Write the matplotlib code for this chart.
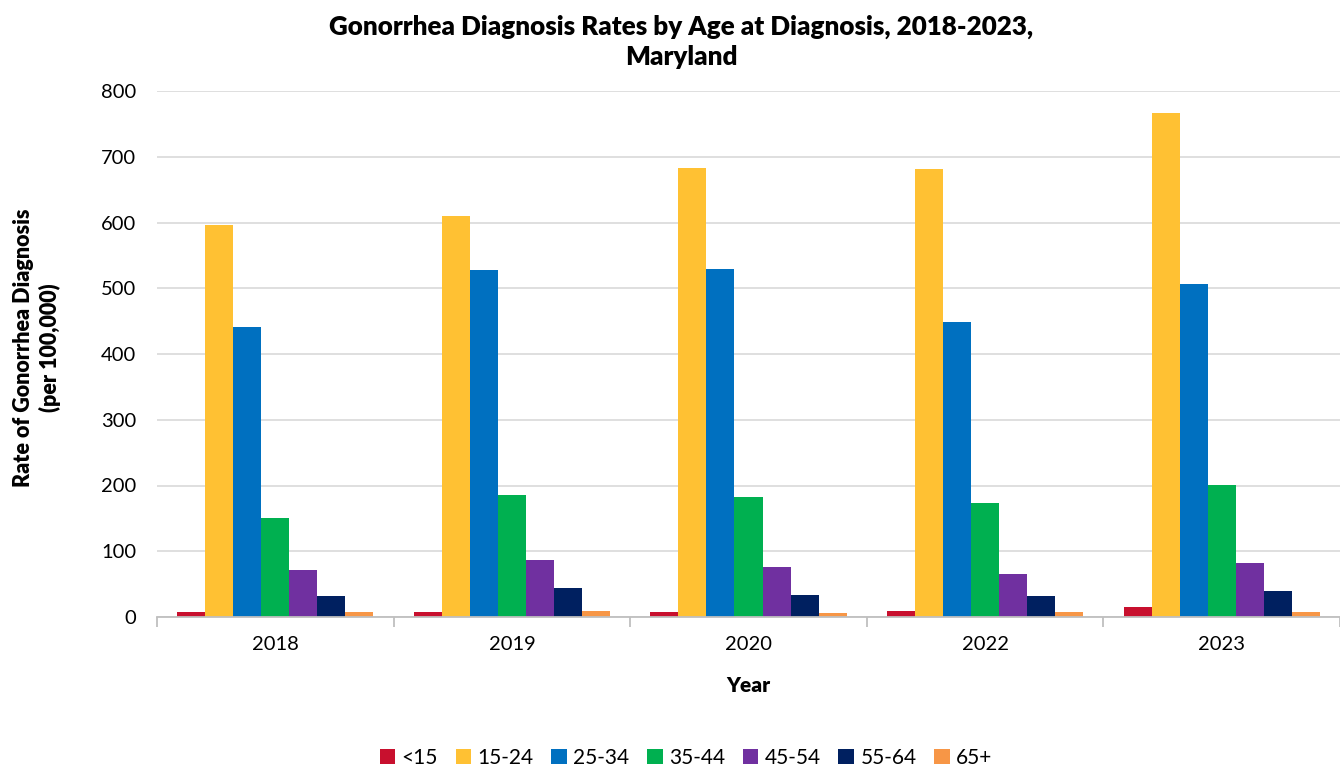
import matplotlib
matplotlib.use("Agg")
import matplotlib.pyplot as plt
import numpy as np

years = ["2018", "2019", "2020", "2022", "2023"]
groups = ["<15", "15-24", "25-34", "35-44", "45-54", "55-64", "65+"]
r_lt15 = [8, 8, 7.6, 9.6, 15.5]
r_15_24 = [596, 610, 683, 682, 767]
r_25_34 = [441, 527, 530, 449, 506]
r_35_44 = [151, 186, 182, 173, 201]
r_45_54 = [72, 87, 76, 65, 82]
r_55_64 = [32, 44, 33, 32, 40]
r_65p = [7, 9, 6, 7.6, 8]
series = [r_lt15, r_15_24, r_25_34, r_35_44, r_45_54, r_55_64, r_65p]
colors = ["#C8102E", "#FFC133", "#0070C0", "#00B050", "#7030A0", "#002060", "#F79646"]

plt.rcParams['font.family'] = ['Lato', 'DejaVu Sans']

fig = plt.figure(figsize=(13.40, 7.71), dpi=100)
ax = fig.add_axes([157/1340, 1 - 617/771, (1340 - 157)/1340, (617 - 91)/771])

n = len(groups)
group_w = 0.83
bw = group_w / n
x = np.arange(len(years))
for i, (vals, c) in enumerate(zip(series, colors)):
    ax.bar(x - group_w/2 + bw*(i + 0.5), vals, bw, color=c, label=groups[i], zorder=3)

ax.set_xlim(-0.5, len(years) - 0.5)
ax.set_ylim(0, 800)
ax.set_yticks(range(0, 801, 100))
ax.set_xticks(x)
ax.set_xticklabels(years, fontsize=14.5)
ax.tick_params(axis='x', length=0, pad=14)
ax.set_xticks(np.arange(-0.5, len(years)), minor=True)
ax.tick_params(axis='x', which='minor', length=7, color='#BFBFBF', width=1.3)
ax.tick_params(axis='y', length=0, labelsize=14.5, pad=15)
ax.grid(axis='y', color='#D9D9D9', linewidth=1.2, zorder=0)
for s in ['top', 'right', 'left']:
    ax.spines[s].set_visible(False)
ax.spines['bottom'].set_color('#BFBFBF')
ax.spines['bottom'].set_linewidth(1.3)
ax.spines['bottom'].set_zorder(4)

ax.set_xlabel("Year", fontsize=15, fontweight='heavy', labelpad=16)
fig.text(37/1340, 1 - 348/771, "Rate of Gonorrhea Diagnosis\n(per 100,000)", rotation=90,
         ha='center', va='center', fontsize=15.5, fontweight='heavy', linespacing=1.3)
fig.text(681/1340, 1 - 42/771, "Gonorrhea Diagnosis Rates by Age at Diagnosis, 2018-2023,\nMaryland",
         ha='center', va='center', fontsize=18.7, fontweight='heavy', linespacing=1.3)

handles, labels = ax.get_legend_handles_labels()
fig.legend(handles, labels, loc='center', bbox_to_anchor=(686/1340, 1 - 758/771), ncol=7,
           frameon=False, fontsize=15, handlelength=0.75, handleheight=0.75,
           handletextpad=0.3, columnspacing=0.85)

fig.savefig("out.png", dpi=100)
